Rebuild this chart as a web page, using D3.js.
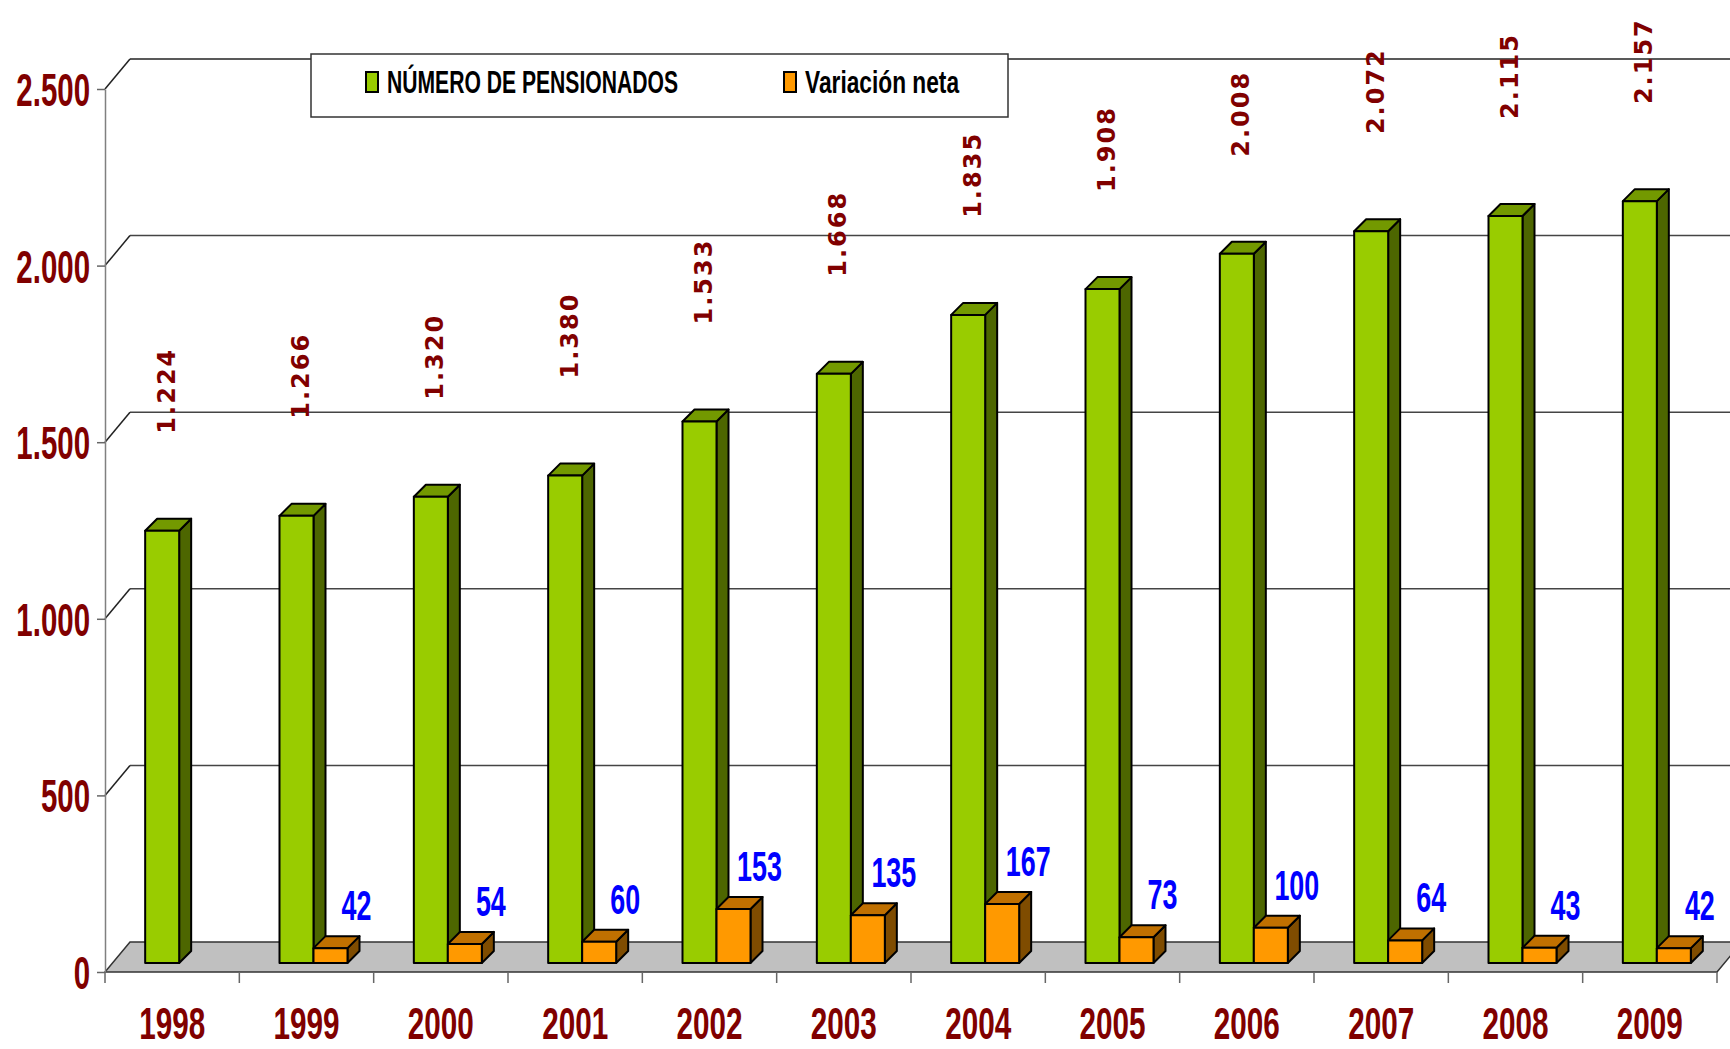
<!DOCTYPE html>
<html>
<head>
<meta charset="utf-8">
<script src="https://cdn.jsdelivr.net/npm/d3@7"></script>
<style>
  body { margin: 0; background: #fff; }
  svg { display: block; }
  .narrow { font-family: "Liberation Sans", Arial, sans-serif; font-weight: bold; }
</style>
</head>
<body>
<div id="chart"></div>
<script>
// data
const years = ['1998', '1999', '2000', '2001', '2002', '2003', '2004', '2005', '2006', '2007', '2008', '2009'];
const pensionados = [1224, 1266, 1320, 1380, 1533, 1668, 1835, 1908, 2008, 2072, 2115, 2157];
const variacion = [null, 42, 54, 60, 153, 135, 167, 73, 100, 64, 43, 42];
const seriesNames = ['NÚMERO DE PENSIONADOS', 'Variación neta'];
const yTicks = [0, 500, 1000, 1500, 2000, 2500];

const W = 1730, H = 1049;
const wallDx = 25, wallDy = 30;     // depth of the side wall / floor
const barDx = 12, barDy = 12;       // depth of each bar
const barShiftX = 7, barShiftY = 9; // bars sit a bit behind the front plane
const sx = 0.64;                    // horizontal squeeze of the condensed labels

const colors = [
  { front: '#99CC00', top: '#739900', side: '#4D6600' },
  { front: '#FF9900', top: '#C07000', side: '#7F4C00' }
];

const fmt = d3.formatLocale({ decimal: ',', thousands: '.', grouping: [3], currency: ['', ''] }).format(',d');

const svg = d3.select('#chart').append('svg')
  .attr('width', W).attr('height', H);

const x = d3.scaleBand().domain(years).range([105, 1717]);
const y = d3.scaleLinear().domain([0, 2500]).range([972, 89]);
const x1 = d3.scaleBand().domain([0, 1]).range([0, 68]);

// floor
const x0 = x.range()[0], xEnd = x.range()[1];
svg.append('path')
  .attr('d', `M${x0},${y(0)}L${xEnd},${y(0)}L${xEnd + wallDx},${y(0) - wallDy}L${x0 + wallDx},${y(0) - wallDy}Z`)
  .attr('fill', '#C0C0C0').attr('stroke', '#333').attr('stroke-width', 1.5);

// grid lines on the back wall and the side wall
const grid = svg.append('g');
yTicks.filter(v => v > 0).forEach(v => {
  grid.append('line')
    .attr('x1', x0 + wallDx).attr('x2', xEnd + wallDx)
    .attr('y1', y(v) - wallDy).attr('y2', y(v) - wallDy)
    .attr('stroke', v === 2500 ? '#222' : '#444').attr('stroke-width', 1.5);
  grid.append('line')
    .attr('x1', x0).attr('x2', x0 + wallDx)
    .attr('y1', y(v)).attr('y2', y(v) - wallDy)
    .attr('stroke', '#222').attr('stroke-width', 1.5);
});

// y axis
const yAxis = svg.append('g')
  .attr('transform', `translate(${x0},0)`)
  .call(d3.axisLeft(y).tickValues(yTicks).tickFormat(fmt).tickSize(8).tickSizeOuter(0));
yAxis.select('.domain').attr('stroke', '#808080').attr('stroke-width', 1.5);
yAxis.selectAll('.tick line').attr('stroke', '#666').attr('stroke-width', 1.5);
yAxis.selectAll('.tick text')
  .attr('class', 'narrow')
  .attr('x', -15 / sx)
  .attr('dy', '0.36em')
  .attr('transform', `scale(${sx},1)`)
  .attr('fill', '#800000')
  .attr('font-size', 46);

// x axis
const xAxis = svg.append('g')
  .attr('transform', `translate(0,${y(0)})`)
  .call(d3.axisBottom(x).tickSize(0));
xAxis.select('.domain').remove();
xAxis.selectAll('.tick text')
  .attr('class', 'narrow')
  .attr('y', 67).attr('dy', 0)
  .attr('transform', `scale(0.66,1)`)
  .attr('fill', '#800000')
  .attr('font-size', 45);
xAxis.selectAll('.sep')
  .data(years.map(d => x(d)).concat([xEnd]))
  .join('line')
  .attr('class', 'sep')
  .attr('x1', d => d).attr('x2', d => d)
  .attr('y1', 0).attr('y2', 11)
  .attr('stroke', '#666').attr('stroke-width', 1.5);

// bars
function barX(i, s) {
  return x(years[i]) + (x.bandwidth() - x1.range()[1]) / 2 + x1(s) + barShiftX;
}
function barY(v) { return y(v) - barShiftY; }

const bars = svg.append('g');
years.forEach((yr, i) => {
  [pensionados[i], variacion[i]].forEach((v, s) => {
    if (v == null) return;
    const bx = barX(i, s), bw = x1.bandwidth();
    const top = barY(v), base = barY(0);
    const c = colors[s];
    const g = bars.append('g')
      .attr('stroke', '#000').attr('stroke-width', 2).attr('stroke-linejoin', 'round');
    g.append('path')
      .attr('d', `M${bx + bw},${top}L${bx + bw + barDx},${top - barDy}L${bx + bw + barDx},${base - barDy}L${bx + bw},${base}Z`)
      .attr('fill', c.side);
    g.append('path')
      .attr('d', `M${bx},${top}L${bx + bw},${top}L${bx + bw + barDx},${top - barDy}L${bx + barDx},${top - barDy}Z`)
      .attr('fill', c.top);
    g.append('rect')
      .attr('x', bx).attr('y', top).attr('width', bw).attr('height', base - top)
      .attr('fill', c.front);
  });
});

// value labels for the pensioners (rotated)
svg.append('g').selectAll('text')
  .data(pensionados)
  .join('text')
  .attr('transform', (d, i) => `translate(${barX(i, 0) + x1.bandwidth() / 2 + 4},${barY(d) - 140}) rotate(-90)`)
  .attr('text-anchor', 'middle')
  .attr('dy', '0.36em')
  .attr('font-family', '"DejaVu Sans", Verdana, sans-serif')
  .attr('font-weight', 'bold')
  .attr('font-size', 24)
  .attr('letter-spacing', 2)
  .attr('fill', '#800000')
  .text(d => fmt(d));

// value labels for the net variation
svg.append('g').selectAll('text')
  .data(variacion.map((v, i) => ({ v, i })).filter(d => d.v != null))
  .join('text')
  .attr('class', 'narrow')
  .attr('transform', d => `translate(${barX(d.i, 1) + x1.bandwidth() / 2 + 26},${barY(d.v) - 28}) scale(${sx},1)`)
  .attr('text-anchor', 'middle')
  .attr('font-size', 42)
  .attr('fill', '#0000FF')
  .text(d => d.v);

// legend
const legend = svg.append('g');
legend.append('rect')
  .attr('x', 311).attr('y', 54).attr('width', 697).attr('height', 63)
  .attr('fill', '#fff').attr('stroke', '#333').attr('stroke-width', 1.5);
const items = legend.selectAll('.item')
  .data(seriesNames)
  .join('g')
  .attr('class', 'item')
  .attr('transform', (d, i) => `translate(${366 + i * 418},72)`);
items.append('rect')
  .attr('width', 12).attr('height', 20)
  .attr('fill', (d, i) => colors[i].front)
  .attr('stroke', '#000').attr('stroke-width', 2);
items.append('text')
  .attr('class', 'narrow')
  .attr('transform', (d, i) => `translate(21,21) scale(${i ? 0.71 : 0.66},1)`)
  .attr('font-size', 32)
  .attr('fill', '#000')
  .text(d => d);
</script>
</body>
</html>
